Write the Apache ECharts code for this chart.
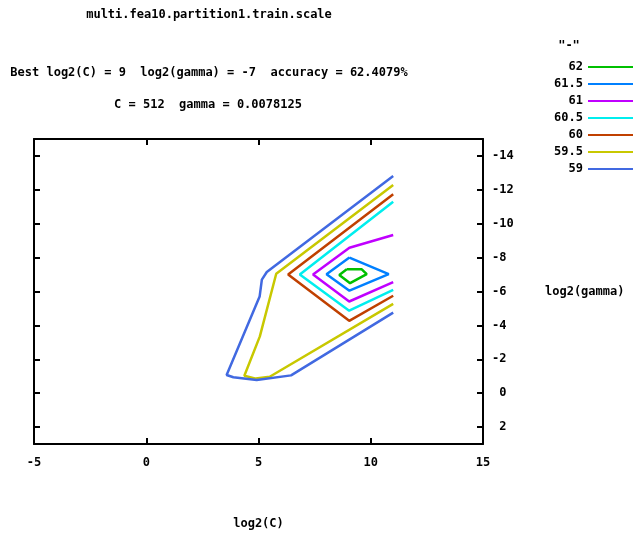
<!DOCTYPE html>
<html>
<head>
<meta charset="utf-8">
<script src="https://cdn.jsdelivr.net/npm/echarts@6/dist/echarts.min.js"></script>
<style>
  html, body { margin: 0; padding: 0; background: #fff; }
  #chart { width: 644px; height: 533px; }
</style>
</head>
<body>
<div id="chart"></div>
<script>
// contour levels and gnuplot colours
const levels = ['62', '61.5', '61', '60.5', '60', '59.5', '59'];
const colors = ['#00c000', '#0080ff', '#c000ff', '#00eeee', '#c04000', '#c8c800', '#4169e1'];

// contour lines, [log2(C), log2(gamma)]
const c62 = [[8.93, -7.31], [9.6, -7.31], [9.82, -7.02], [9.08, -6.49], [8.6, -6.98], [8.93, -7.31]];
const c615 = [[9.05, -8.0], [10.8, -7.02], [9.05, -6.05], [8.03, -7.02], [9.05, -8.0]];
const c61 = [[11, -9.33], [9.05, -8.58], [7.43, -7.0], [9.04, -5.41], [11, -6.55]];
const c605 = [[11, -11.3], [6.84, -7.0], [9.04, -4.87], [11, -6.1]];
const c60 = [[11, -11.74], [6.32, -7.0], [9.04, -4.27], [11, -5.75]];
const c595 = [[11, -12.29], [5.79, -7.05], [5.06, -3.35], [4.37, -1.03], [4.88, -0.86], [5.5, -0.97], [11, -5.27]];
const c59 = [[11, -12.82], [5.37, -7.15], [5.15, -6.7], [5.05, -5.7], [3.58, -1.07], [3.88, -0.94], [4.92, -0.78], [6.45, -1.05], [11, -4.75]];
const contours = [c62, c615, c61, c605, c60, c595, c59];

// axis ticks
const yTicks = [-14, -12, -10, -8, -6, -4, -2, 0, 2];

const font = 'DejaVu Sans Mono';
const txt = { fontFamily: font, fontWeight: 'bold', fontSize: 12, color: '#000' };

let chart = echarts.init(document.getElementById('chart'), null, { renderer: 'canvas' });

let frame = { show: true, onZero: false, lineStyle: { color: '#000', width: 2 } };
let tick = { show: true, inside: true, length: 6, lineStyle: { color: '#000', width: 2 } };

let series = contours.map((d, i) => ({
  name: levels[i],
  type: 'line',
  data: d,
  symbol: 'none',
  smooth: false,
  animation: false,
  lineStyle: { color: colors[i], width: 2.5 },
  itemStyle: { color: colors[i] }
}));

chart.setOption({
  backgroundColor: '#fff',
  animation: false,
  grid: { left: 34, right: 161, top: 139, bottom: 89, outerBoundsMode: 'none', containLabel: false },
  graphic: [
    { type: 'text', x: 209, y: 15, style: Object.assign({ text: 'multi.fea10.partition1.train.scale', align: 'center', verticalAlign: 'middle' }, txt, { fill: '#000' }) },
    { type: 'text', x: 209, y: 73, style: Object.assign({ text: 'Best log2(C) = 9  log2(gamma) = -7  accuracy = 62.4079%', align: 'center', verticalAlign: 'middle' }, txt, { fill: '#000' }) },
    { type: 'text', x: 208, y: 105, style: Object.assign({ text: 'C = 512  gamma = 0.0078125', align: 'center', verticalAlign: 'middle' }, txt, { fill: '#000' }) },
    { type: 'text', x: 569, y: 46, style: Object.assign({ text: '"-"', align: 'center', verticalAlign: 'middle' }, txt, { fill: '#000' }) }
  ],
  legend: {
    orient: 'vertical',
    left: 542,
    top: 55,
    align: 'right',
    itemGap: 3,
    itemWidth: 45,
    itemHeight: 2,
    icon: 'rect',
    data: levels,
    formatter: '{a|{name}}',
    textStyle: {
      rich: { a: { width: 36, align: 'right', fontFamily: font, fontWeight: 'bold', fontSize: 12, height: 14, lineHeight: 14, color: '#000' } }
    }
  },
  xAxis: [
    {
      type: 'value', position: 'bottom', min: -5, max: 15, interval: 5,
      axisLine: frame, axisTick: tick, splitLine: { show: false },
      axisLabel: Object.assign({ margin: 13 }, txt),
      name: 'log2(C)', nameLocation: 'middle', nameGap: 74, nameTextStyle: txt
    },
    {
      type: 'value', position: 'top', min: -5, max: 15, interval: 5,
      axisLine: frame, axisTick: tick, splitLine: { show: false },
      axisLabel: { show: false }
    }
  ],
  yAxis: [
    {
      type: 'value', position: 'right', inverse: true, min: -15, max: 3,
      axisLine: frame,
      axisTick: Object.assign({ customValues: yTicks }, tick),
      splitLine: { show: false },
      axisLabel: Object.assign({
        customValues: yTicks, margin: 9, align: 'left',
        formatter: v => (v < 0 ? String(v) : ' ' + v)
      }, txt),
      name: 'log2(gamma)', nameLocation: 'middle', nameGap: 62, nameRotate: 0,
      nameTextStyle: Object.assign({ align: 'left', verticalAlign: 'middle' }, txt)
    },
    {
      type: 'value', position: 'left', inverse: true, min: -15, max: 3,
      axisLine: frame,
      axisTick: Object.assign({ customValues: yTicks }, tick),
      splitLine: { show: false },
      axisLabel: { show: false }
    }
  ],
  series: series
});
</script>
</body>
</html>
